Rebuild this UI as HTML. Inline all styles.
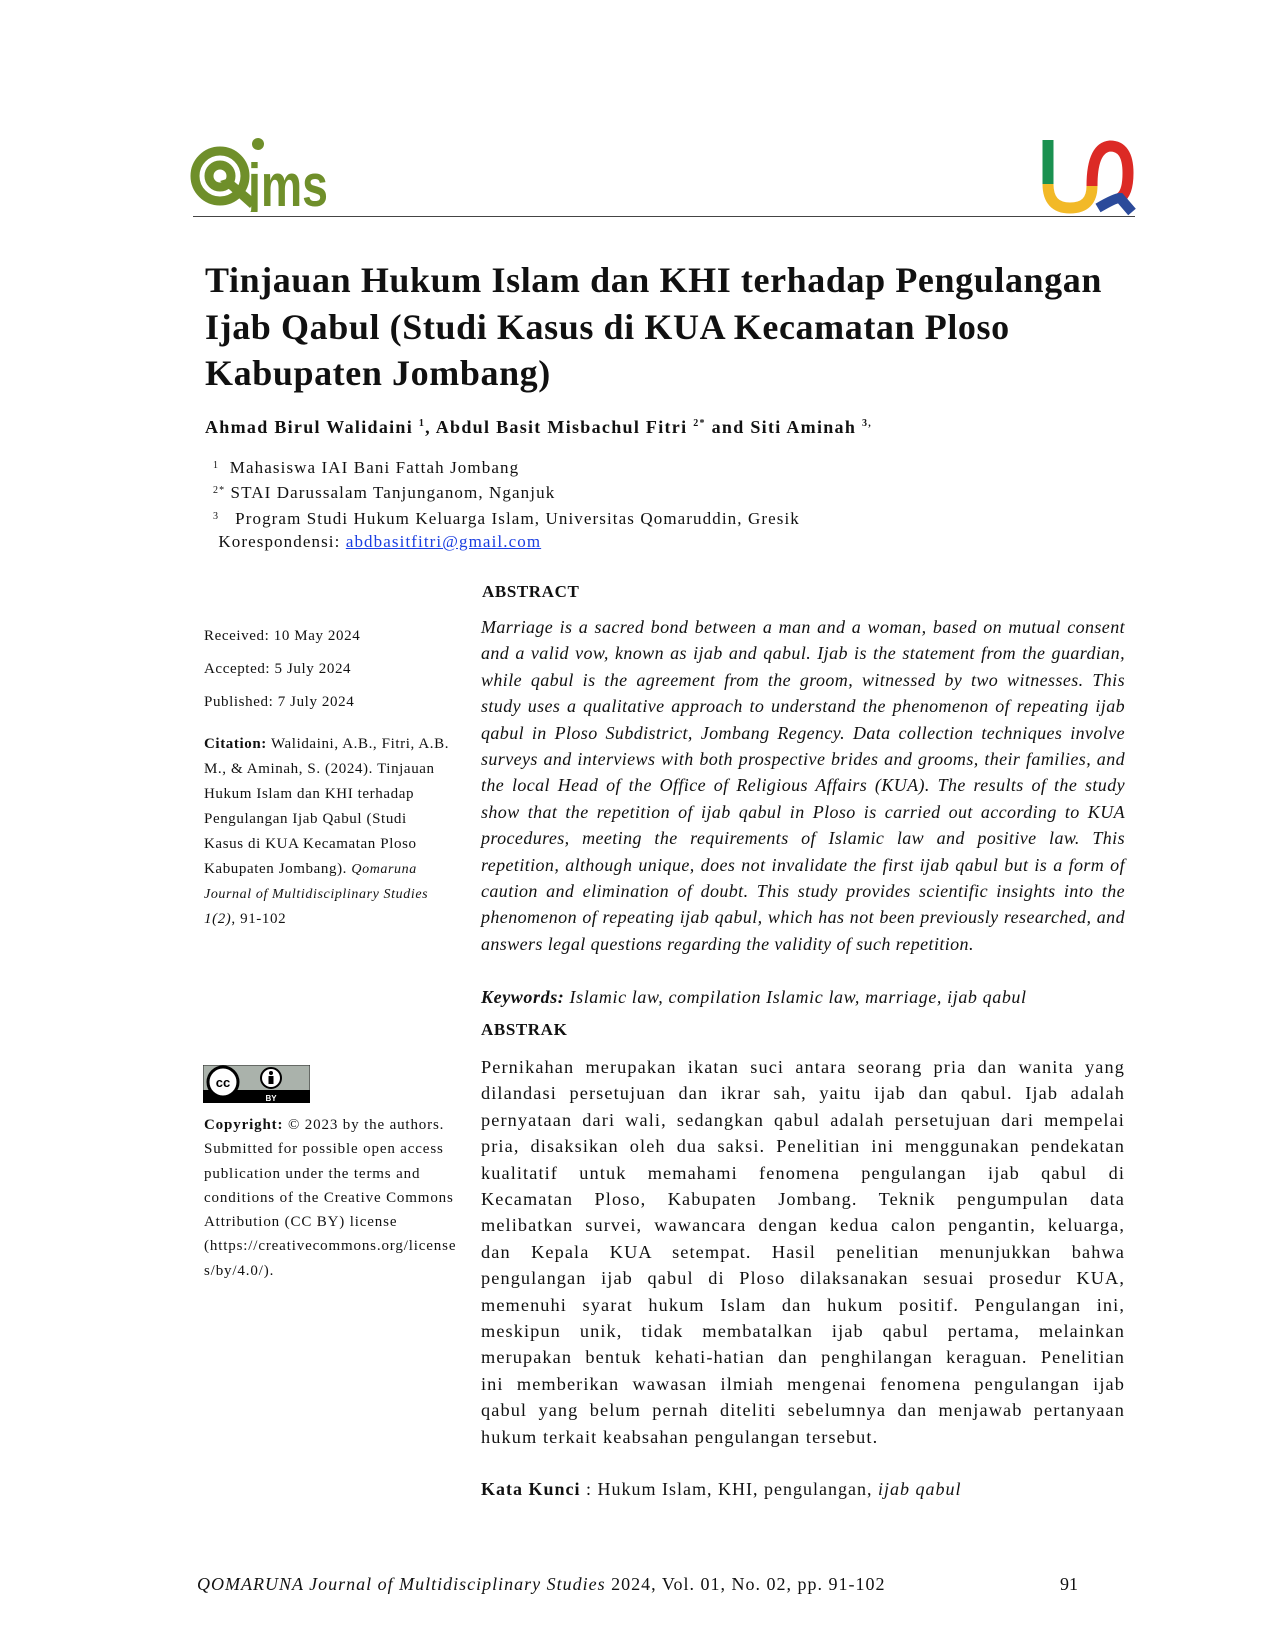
<!DOCTYPE html>
<html><head><meta charset="utf-8">
<style>
body{margin:0;background:#fff;}
#p{position:relative;width:1275px;height:1650px;overflow:hidden;font-family:"Liberation Serif",serif;color:#111;}
.a{position:absolute;white-space:nowrap;}
.j{position:absolute;left:481px;width:644px;font-size:18px;line-height:26.4px;}
.j div{text-align:justify;text-align-last:justify;white-space:nowrap;}
.j div.l{text-align-last:left;}
.lc{position:absolute;left:204px;font-size:15px;white-space:nowrap;letter-spacing:0.6px;}
</style></head><body><div id="p">

<svg class="a" style="left:190px;top:136px" width="145" height="76" viewBox="0 0 145 76">
 <g fill="none" stroke="#6f8f2a" stroke-width="9">
  <circle cx="30" cy="40" r="25"/>
  <circle cx="30" cy="40" r="11"/>
 </g>
 <path d="M30 45 L60 72 L66 64 L40 42Z" fill="#6f8f2a"/>
 <circle cx="68" cy="8" r="6" fill="#6f8f2a"/>
 <text x="58" y="70" font-family="Liberation Sans Narrow,Liberation Sans,sans-serif" font-weight="bold" font-size="60" fill="#6f8f2a" textLength="80" lengthAdjust="spacingAndGlyphs">jms</text>
</svg>

<svg class="a" style="left:1040px;top:138px" width="100" height="80" viewBox="0 0 100 80">
 <path d="M8 2 L8 46" stroke="#1a9150" stroke-width="11" fill="none"/>
 <path d="M8 46 Q8 70 30 70 Q52 70 52 48" stroke="#f2b927" stroke-width="11" fill="none"/>
 <path d="M52 48 Q52 10 70 8 Q88 8 88 35 Q88 55 80 60" stroke="#dc2a25" stroke-width="11" fill="none"/>
 <path d="M58 70 Q75 60 80 60 L92 74" stroke="#2b4a9a" stroke-width="10" fill="none"/>
</svg>
<div class="a" style="left:193px;top:216px;width:942px;height:1px;background:#444"></div>

<div class="a" style="left:205px;top:257px;font-size:36px;line-height:46.5px;font-weight:bold;letter-spacing:0.6px">Tinjauan Hukum Islam dan KHI terhadap Pengulangan<br>Ijab Qabul (Studi Kasus di KUA Kecamatan Ploso<br>Kabupaten Jombang)</div>

<div class="a" style="left:205px;top:415px;font-size:18px;line-height:18px;font-weight:bold;letter-spacing:1.3px">Ahmad Birul Walidaini <sup style="font-size:10px">1</sup>, Abdul Basit Misbachul Fitri <sup style="font-size:10px">2*</sup> and Siti Aminah <sup style="font-size:10px">3,</sup></div>

<div class="a" style="left:213px;top:454px;font-size:17px;line-height:23.3px;letter-spacing:1.1px">
<span style="font-size:10px;vertical-align:5px">1</span>&nbsp; Mahasiswa IAI Bani Fattah Jombang<br>
<span style="font-size:10px;vertical-align:5px">2*</span> STAI Darussalam Tanjunganom, Nganjuk<br>
<span style="font-size:10px;vertical-align:5px">3</span>&nbsp;&nbsp; Program Studi Hukum Keluarga Islam, Universitas Qomaruddin, Gresik<br>
&nbsp;Korespondensi: <span style="color:#1a3ee0;text-decoration:underline">abdbasitfitri@gmail.com</span></div>

<div class="a" style="left:482px;top:583px;font-size:17px;line-height:17px;font-weight:bold;letter-spacing:0.6px">ABSTRACT</div>

<div class="lc" style="top:629px;line-height:15px">Received: 10 May 2024</div>
<div class="lc" style="top:662px;line-height:15px">Accepted: 5 July 2024</div>
<div class="lc" style="top:695px;line-height:15px">Published: 7 July 2024</div>
<div class="lc" style="top:732px;line-height:25px"><b>Citation:</b> Walidaini, A.B., Fitri, A.B.<br>M., &amp; Aminah, S. (2024). Tinjauan<br>Hukum Islam dan KHI terhadap<br>Pengulangan Ijab Qabul (Studi<br>Kasus di KUA Kecamatan Ploso<br>Kabupaten Jombang). <i style="font-size:14px">Qomaruna</i><br><i style="font-size:14px">Journal of Multidisciplinary Studies</i><br><i>1(2)</i>, 91-102</div>

<div class="j" style="top:614px;font-style:italic;letter-spacing:0.4px">
<div>Marriage is a sacred bond between a man and a woman, based on mutual consent</div>
<div>and a valid vow, known as ijab and qabul. Ijab is the statement from the guardian,</div>
<div>while qabul is the agreement from the groom, witnessed by two witnesses. This</div>
<div>study uses a qualitative approach to understand the phenomenon of repeating ijab</div>
<div>qabul in Ploso Subdistrict, Jombang Regency. Data collection techniques involve</div>
<div>surveys and interviews with both prospective brides and grooms, their families, and</div>
<div>the local Head of the Office of Religious Affairs (KUA). The results of the study</div>
<div>show that the repetition of ijab qabul in Ploso is carried out according to KUA</div>
<div>procedures, meeting the requirements of Islamic law and positive law. This</div>
<div>repetition, although unique, does not invalidate the first ijab qabul but is a form of</div>
<div>caution and elimination of doubt. This study provides scientific insights into the</div>
<div>phenomenon of repeating ijab qabul, which has not been previously researched, and</div>
<div class="l">answers legal questions regarding the validity of such repetition.</div>
</div>

<div class="a" style="left:481px;top:988px;font-size:18px;line-height:18px;font-style:italic;letter-spacing:0.6px"><b>Keywords:</b> Islamic law, compilation Islamic law, marriage, ijab qabul</div>
<div class="a" style="left:481px;top:1021px;font-size:17px;line-height:17px;font-weight:bold;letter-spacing:0.6px">ABSTRAK</div>

<div class="j" style="top:1054px;letter-spacing:1.1px;font-size:18.3px">
<div>Pernikahan merupakan ikatan suci antara seorang pria dan wanita yang</div>
<div>dilandasi persetujuan dan ikrar sah, yaitu ijab dan qabul. Ijab adalah</div>
<div>pernyataan dari wali, sedangkan qabul adalah persetujuan dari mempelai</div>
<div>pria, disaksikan oleh dua saksi. Penelitian ini menggunakan pendekatan</div>
<div>kualitatif untuk memahami fenomena pengulangan ijab qabul di</div>
<div>Kecamatan Ploso, Kabupaten Jombang. Teknik pengumpulan data</div>
<div>melibatkan survei, wawancara dengan kedua calon pengantin, keluarga,</div>
<div>dan Kepala KUA setempat. Hasil penelitian menunjukkan bahwa</div>
<div>pengulangan ijab qabul di Ploso dilaksanakan sesuai prosedur KUA,</div>
<div>memenuhi syarat hukum Islam dan hukum positif. Pengulangan ini,</div>
<div>meskipun unik, tidak membatalkan ijab qabul pertama, melainkan</div>
<div>merupakan bentuk kehati-hatian dan penghilangan keraguan. Penelitian</div>
<div>ini memberikan wawasan ilmiah mengenai fenomena pengulangan ijab</div>
<div>qabul yang belum pernah diteliti sebelumnya dan menjawab pertanyaan</div>
<div class="l">hukum terkait keabsahan pengulangan tersebut.</div>
</div>

<div class="a" style="left:481px;top:1480px;font-size:18px;line-height:18px;letter-spacing:1px"><b>Kata Kunci</b> : Hukum Islam, KHI, pengulangan, <i>ijab qabul</i></div>

<svg class="a" style="left:203px;top:1065px" width="107" height="38" viewBox="0 0 107 38">
 <rect x="0" y="0" width="107" height="38" fill="#aab2ab" stroke="#222" stroke-width="1"/>
 <rect x="0" y="25" width="107" height="13" fill="#000"/>
 <circle cx="20" cy="17" r="15" fill="#fff" stroke="#000" stroke-width="3"/>
 <text x="20" y="22" text-anchor="middle" font-family="Liberation Sans,sans-serif" font-weight="bold" font-size="13">cc</text>
 <circle cx="68" cy="13" r="10" fill="#fff" stroke="#000" stroke-width="2"/>
 <circle cx="68" cy="8" r="2" fill="#000"/>
 <rect x="65.5" y="11" width="5" height="8" fill="#000"/>
 <text x="68" y="36" text-anchor="middle" font-family="Liberation Sans,sans-serif" font-weight="bold" font-size="8" fill="#fff">BY</text>
</svg>

<div class="lc" style="top:1113px;line-height:24.3px;letter-spacing:0.85px"><b>Copyright:</b> © 2023 by the authors.<br>Submitted for possible open access<br>publication under the terms and<br>conditions of the Creative Commons<br>Attribution (CC BY) license<br>(https://creativecommons.org/license<br>s/by/4.0/).</div>

<div class="a" style="left:197px;top:1575px;font-size:18px;line-height:18px;letter-spacing:1px"><i>QOMARUNA Journal of Multidisciplinary Studies</i> 2024, Vol. 01, No. 02, pp. 91-102</div>
<div class="a" style="left:1060px;top:1575px;font-size:18px;line-height:18px">91</div>

</div></body></html>
